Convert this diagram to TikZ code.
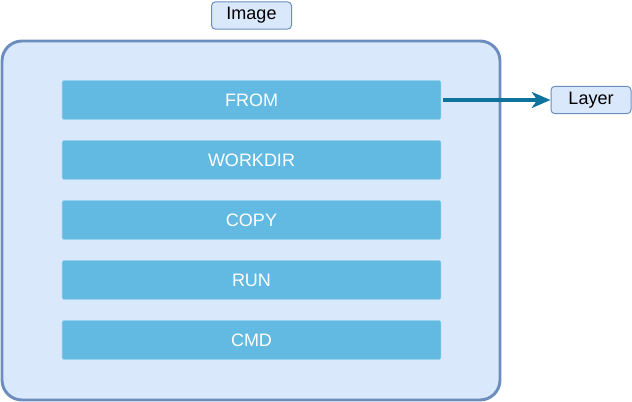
\documentclass[tikz,border=0pt]{standalone}
\usepackage{fontspec}
\setmainfont{Liberation Sans}
\usetikzlibrary{positioning,arrows.meta}
\definecolor{boxfill}{HTML}{DAE8FC}
\definecolor{boxline}{HTML}{6C8EBF}
\definecolor{barfill}{HTML}{62B9E1}
\definecolor{arrowcol}{HTML}{10739E}
\begin{document}
\begin{tikzpicture}[x=0.75pt,y=-0.75pt,
every node/.style={font=\fontsize{13.5}{15}\selectfont},
imagebox/.style={draw=boxline,fill=boxfill,line width=2.2pt,rounded corners=15pt},
tag/.style={draw=boxline,fill=boxfill,line width=0.75pt,rounded corners=3pt,minimum width=60pt,minimum height=20.5pt,inner sep=0pt},
bar/.style={fill=barfill,draw=barfill!70!white,line width=0.5pt,rounded corners=1pt,minimum width=284pt,minimum height=29pt,inner sep=0pt,text=white},
link/.style={draw=arrowcol,line width=2.3pt,-{Stealth[length=14pt,width=12pt,inset=4pt]}}]

\useasboundingbox (0,0) rectangle (632,402);

\draw[imagebox] (2,41) rectangle (500,400);
\node[tag] (image) at (251.5,15.5) {Image};

\node[bar] (from)    at (251.5,100) {FROM};
\node[bar] (workdir) at (251.5,160) {WORKDIR};
\node[bar] (copy)    at (251.5,220) {COPY};
\node[bar] (run)     at (251.5,280) {RUN};
\node[bar] (cmd)     at (251.5,340) {CMD};

\node[tag] (layer) at (591,100) {Layer};

\draw[link] ([xshift=1.5pt]from.east) -- (layer.west);
\end{tikzpicture}
\end{document}
